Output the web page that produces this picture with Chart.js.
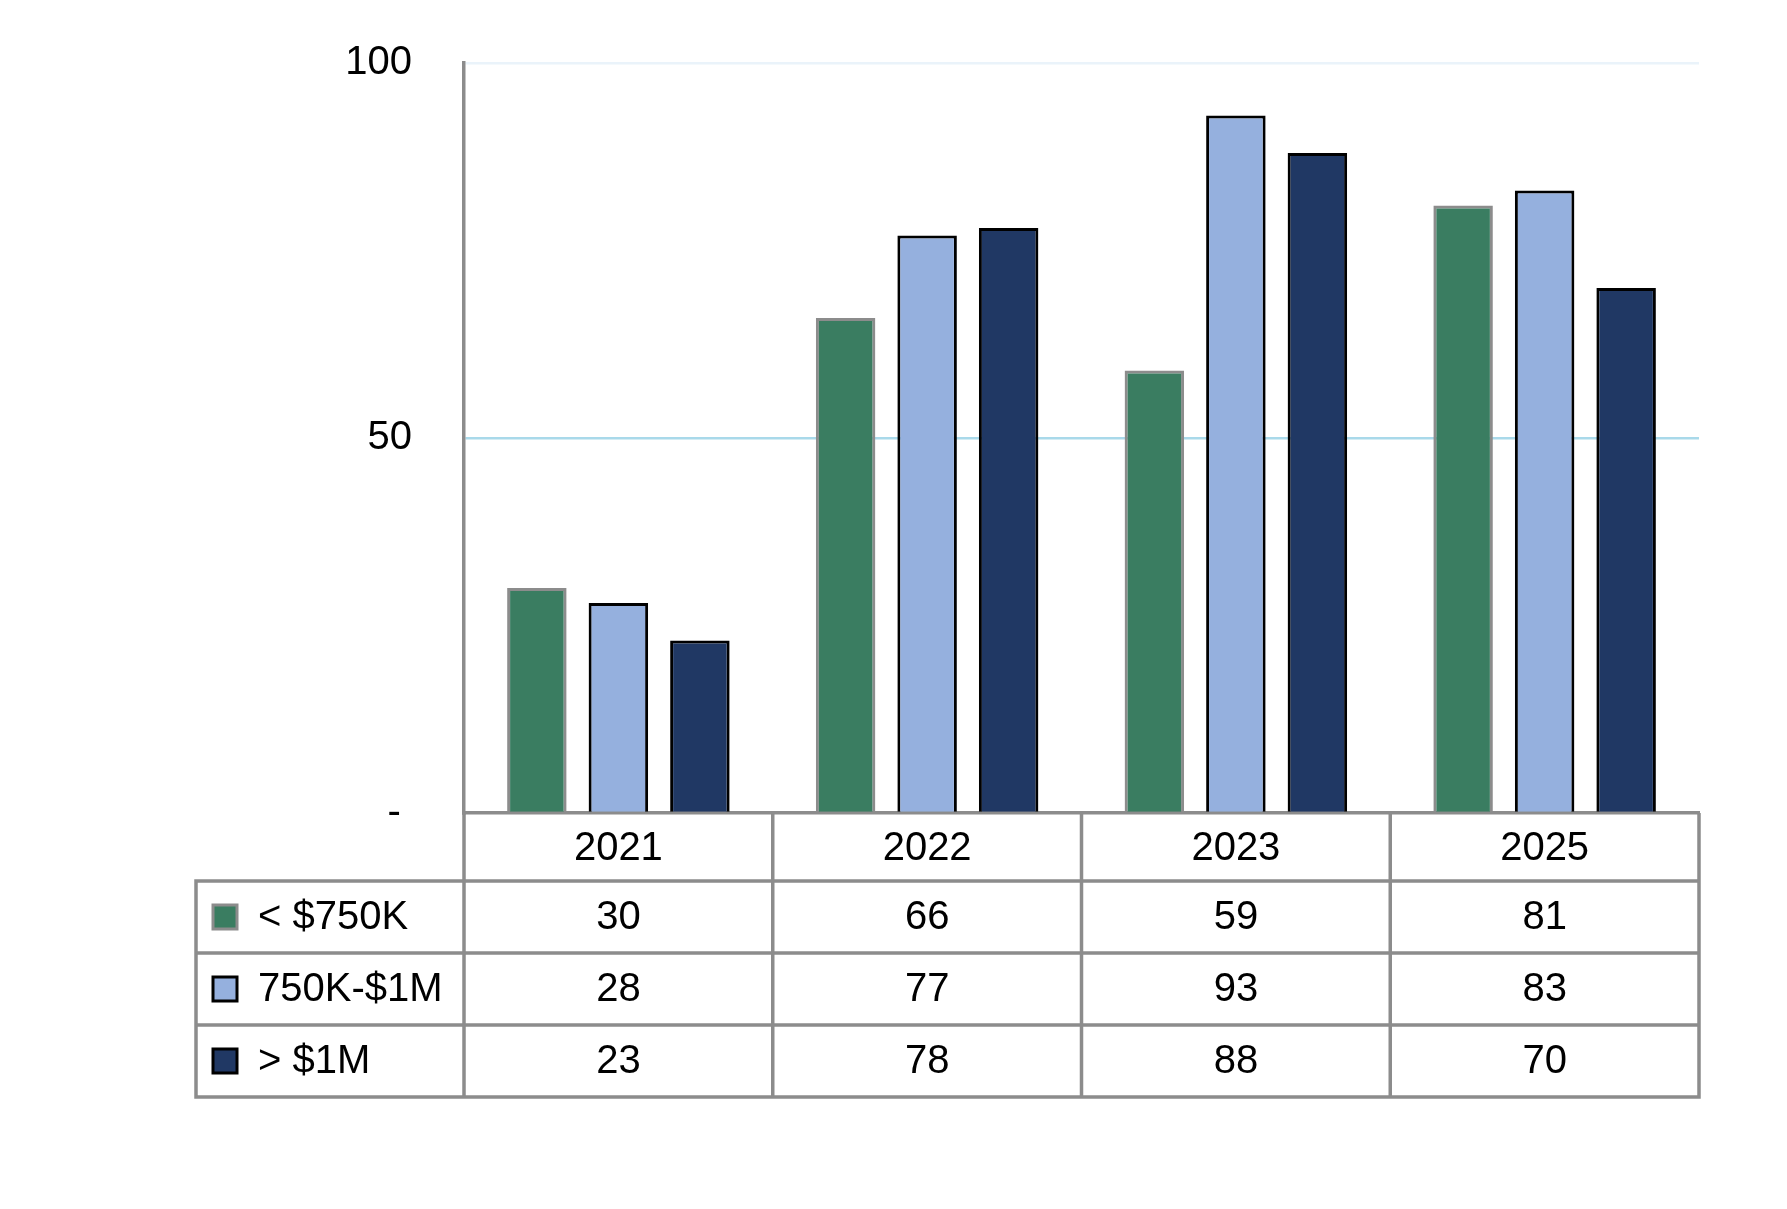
<!DOCTYPE html>
<html>
<head>
<meta charset="utf-8">
<script src="https://cdn.jsdelivr.net/npm/chart.js@4.4.1/dist/chart.umd.min.js"></script>
<style>
  html, body { margin: 0; padding: 0; background: #fff; }
  #wrap { width: 1787px; height: 1209px; position: relative; }
</style>
</head>
<body>
<div id="wrap"><canvas id="chart"></canvas></div>
<script>
// ── data ──
const years = ['2021', '2022', '2023', '2025'];
const seriesNames = ['< $750K', '750K-$1M', '> $1M'];
const under750k = [30, 66, 59, 81];
const mid750kTo1m = [28, 77, 93, 83];
const over1m = [23, 78, 88, 70];
const yTicks = [0, 50, 100];

const fills = ['#3a7d61', '#95b0de', '#203864'];
const edges = ['#8c8c8c', '#000000', '#000000'];
const GRID = '#8c8c8c';
const FONT = '40px "Liberation Sans", Arial, sans-serif';

Chart.defaults.font.family = '"Liberation Sans", Arial, sans-serif';
Chart.defaults.font.size = 40;
Chart.defaults.color = '#000';

// data table under the plot, with legend keys in the first column
const dataTable = {
  id: 'dataTable',
  afterDraw(chart) {
    const { ctx, chartArea, scales } = chart;
    const x = scales.x;
    const rowH = 72;
    const colLeft = 196;
    const top = x.bottom;
    const bottom = top + rowH * 3;
    const half = (x.getPixelForValue(1) - x.getPixelForValue(0)) / 2;
    const bounds = years.map((_, i) => x.getPixelForValue(i) - half);
    bounds.push(chartArea.right);

    ctx.save();
    ctx.strokeStyle = GRID;
    ctx.lineWidth = 3.5;
    ctx.beginPath();
    bounds.forEach(b => { ctx.moveTo(b, chartArea.bottom); ctx.lineTo(b, bottom + 1.7); });
    ctx.moveTo(colLeft, top - 1.7); ctx.lineTo(colLeft, bottom + 1.7);
    for (let r = 0; r <= 3; r++) {
      ctx.moveTo(colLeft - 1.7, top + r * rowH);
      ctx.lineTo(chartArea.right + 1.7, top + r * rowH);
    }
    ctx.stroke();

    ctx.font = FONT;
    ctx.textBaseline = 'middle';
    chart.data.datasets.forEach((ds, r) => {
      const cy = top + r * rowH + rowH / 2;
      // legend key
      ctx.fillStyle = ds.backgroundColor;
      ctx.fillRect(213, cy - 12, 24, 24);
      ctx.strokeStyle = ds.borderColor;
      ctx.lineWidth = 3;
      ctx.strokeRect(213, cy - 12, 24, 24);
      ctx.fillStyle = '#000';
      ctx.textAlign = 'left';
      ctx.fillText(ds.label, 258, cy + 1);
      // values
      ctx.textAlign = 'center';
      ds.data.forEach((v, i) => ctx.fillText(String(v), x.getPixelForValue(i), cy + 1));
    });
    ctx.restore();
  }
};

new Chart(document.getElementById('chart'), {
  type: 'bar',
  data: {
    labels: years,
    datasets: [under750k, mid750kTo1m, over1m].map((d, i) => ({
      label: seriesNames[i],
      data: d,
      backgroundColor: fills[i],
      borderColor: edges[i],
      borderWidth: 3,
      borderSkipped: 'start',
      categoryPercentage: 0.792,
      barPercentage: 0.73,
    }))
  },
  options: {
    responsive: true,
    maintainAspectRatio: false,
    animation: false,
    layout: { padding: { top: 63, right: 88, bottom: 328, left: 0 } },
    plugins: { legend: { display: false }, tooltip: { enabled: false } },
    scales: {
      x: {
        grid: { display: false },
        border: { color: GRID, width: 3.5 },
        ticks: { color: '#000', padding: 4, font: { size: 40 } },
        afterFit: s => { s.height = 68; s.paddingLeft = 0; s.paddingRight = 0; }
      },
      y: {
        min: 0, max: 100,
        afterBuildTicks: s => { s.ticks = yTicks.map(v => ({ value: v })); },
        grid: {
          drawTicks: false,
          color: c => c.tick.value === 50 ? '#a9d9ea' : (c.tick.value === 100 ? '#eaf3fa' : 'rgba(0,0,0,0)'),
          lineWidth: 2.5,
        },
        border: { color: GRID, width: 3.5 },
        ticks: {
          color: '#000',
          padding: 52,
          font: { size: 40 },
          callback: v => v === 0 ? '- ' : String(v)
        },
        afterFit: s => { s.width = 464; s.paddingTop = 0; s.paddingBottom = 0; }
      }
    }
  },
  plugins: [dataTable]
});
</script>
</body>
</html>
